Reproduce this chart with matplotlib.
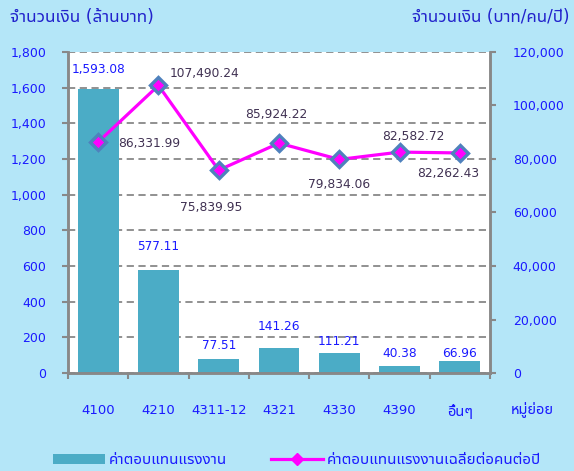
import matplotlib
matplotlib.use('Agg')
import matplotlib.pyplot as plt
from matplotlib.lines import Line2D
from matplotlib.patches import Patch
import numpy as np

plt.rcParams['font.family'] = ['DejaVu Sans', 'Noto Sans Thai UI']

categories = ['4100', '4210', '4311-12', '4321', '4330', '4390', 'อื่นๆ']
pay_total = [1593.08, 577.11, 77.51, 141.26, 111.21, 40.38, 66.96]
pay_avg = [86331.99, 107490.24, 75839.95, 85924.22, 79834.06, 82582.72, 82262.43]
left_ticks = [0, 200, 400, 600, 800, 1000, 1200, 1400, 1600, 1800]
right_ticks = [0, 20000, 40000, 60000, 80000, 100000, 120000]

# label offsets in pixels (x, y) and alignment
bar_off = [(0, 19), (0, 24), (0, 14), (0, 21), (0, 12), (0, 12), (0, 8)]
line_off = [(20, -1, 'left'), (11, 12, 'left'), (-8, -37, 'center'), (-3, 29, 'center'),
            (0, -25, 'center'), (14, 16, 'center'), (-12, -21, 'center')]

bg = '#b4e6f8'
blue = '#1a1aff'
grey = '#888888'

fig = plt.figure(figsize=(5.74, 4.71), dpi=100, facecolor=bg)
ax = fig.add_axes([68/574, 98/471, 422/574, 321/471])
ax2 = ax.twinx()

x = np.arange(len(categories))
ax.bar(x, pay_total, width=0.68, color='#4bacc6', zorder=2)
ax.set_xlim(-0.5, len(categories) - 0.5)
ax.set_ylim(0, 1800)
ax.set_yticks(left_ticks)
ax.set_yticklabels(['{:,}'.format(v) for v in left_ticks])
ax.yaxis.grid(True, color=grey, linestyle=(0, (4, 2.5)), linewidth=1.3, zorder=0)
ax.set_axisbelow(True)

ax.set_xticks(x)
ax.set_xticklabels(categories)
ax.set_xticks(np.arange(len(categories) + 1) - 0.5, minor=True)
ax.tick_params(axis='x', which='major', length=0, pad=22, labelsize=9.5, labelcolor=blue)
ax.tick_params(axis='x', which='minor', length=4.3, width=1.5, color=grey, direction='out')
ax.tick_params(axis='y', length=4.3, width=1.5, color=grey, pad=11.5, labelsize=9, labelcolor=blue)
ax.get_xticklabels()[-1].set_fontsize(10.5)

for i, v in enumerate(pay_total):
    ax.annotate('{:,.2f}'.format(v), (x[i], v), xytext=bar_off[i], textcoords='offset pixels',
                ha='center', va='center', color=blue, fontsize=8.7)

ax2.plot(x, pay_avg, color='#ff00ff', linewidth=2.3, marker='D', markersize=8.5,
         markerfacecolor='#ff00ff', markeredgecolor='#4f81bd', markeredgewidth=2.4, zorder=3)
ax2.set_ylim(0, 120000)
ax2.set_yticks(right_ticks)
ax2.set_yticklabels(['{:,}'.format(v) for v in right_ticks])
ax2.tick_params(axis='y', length=4.3, width=1.5, color=grey, pad=12, labelsize=9, labelcolor=blue)

for i, v in enumerate(pay_avg):
    dx, dy, ha = line_off[i]
    ax2.annotate('{:,.2f}'.format(v), (x[i], v), xytext=(dx, dy), textcoords='offset pixels',
                 ha=ha, va='center', color='#403152', fontsize=8.8)

for a in (ax, ax2):
    a.spines['top'].set_visible(False)
    for s in ('left', 'right', 'bottom'):
        a.spines[s].set_color(grey)
        a.spines[s].set_linewidth(1.8)

fig.text(10/574, 1 - 17/471, 'จำนวนเงิน (ล้านบาท)', ha='left', va='center', color='#2222cc', fontsize=12.3)
fig.text(570/574, 1 - 17/471, 'จำนวนเงิน (บาท/คน/ปี)', ha='right', va='center', color='#2222cc', fontsize=12.2)
fig.text(532/574, 1 - 409/471, 'หมู่ย่อย', ha='center', va='center', color=blue, fontsize=10.5)

handles = [Patch(facecolor='#4bacc6'),
           Line2D([0], [0], color='#ff00ff', linewidth=2.3, marker='D', markersize=6,
                  markerfacecolor='#ff00ff', markeredgecolor='#ff00ff')]
labels = ['ค่าตอบแทนแรงงาน', 'ค่าตอบแทนแรงงานเฉลี่ยต่อคนต่อปี']
leg = fig.legend(handles, labels, loc='center', bbox_to_anchor=(297/574, 1 - 460/471), ncol=2,
                 frameon=False, fontsize=10.9, handlelength=3.45, handletextpad=0.27,
                 columnspacing=2.85, borderpad=0, handleheight=0.65)
for t in leg.get_texts():
    t.set_color(blue)

fig.savefig('out.png', facecolor=bg)
